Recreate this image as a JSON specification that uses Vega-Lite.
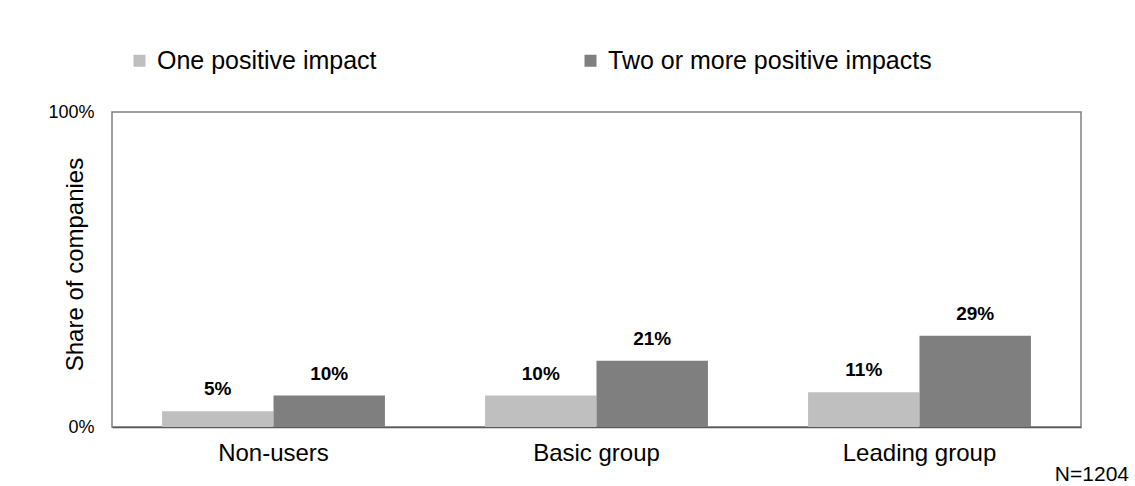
{
  "$schema": "https://vega.github.io/schema/vega-lite/v6.json",
  "width": 969,
  "height": 315,
  "autosize": "none",
  "padding": {"left": 112, "top": 112, "right": 54, "bottom": 59},
  "background": "white",
  "config": {
    "font": "Liberation Sans",
    "view": {"stroke": "#808080", "strokeWidth": 1.5}
  },
  "title": {
    "text": "N=1204",
    "orient": "bottom",
    "anchor": "end",
    "fontSize": 21,
    "fontWeight": "normal",
    "color": "#000",
    "dx": 48,
    "offset": -1
  },
  "data": {
    "values": [
      {"group": "Non-users", "impact": "One positive impact", "share": 5, "label": "5%"},
      {"group": "Non-users", "impact": "Two or more positive impacts", "share": 10, "label": "10%"},
      {"group": "Basic group", "impact": "One positive impact", "share": 10, "label": "10%"},
      {"group": "Basic group", "impact": "Two or more positive impacts", "share": 21, "label": "21%"},
      {"group": "Leading group", "impact": "One positive impact", "share": 11, "label": "11%"},
      {"group": "Leading group", "impact": "Two or more positive impacts", "share": 29, "label": "29%"}
    ]
  },
  "encoding": {
    "x": {
      "field": "group",
      "type": "nominal",
      "sort": ["Non-users", "Basic group", "Leading group"],
      "scale": {"paddingInner": 0.31, "paddingOuter": 0.155},
      "axis": {
        "title": null,
        "labelAngle": 0,
        "labelFontSize": 24,
        "labelColor": "#000",
        "ticks": false,
        "domainColor": "#595959",
        "domainWidth": 1.5,
        "labelPadding": 14
      }
    },
    "xOffset": {
      "field": "impact",
      "sort": ["One positive impact", "Two or more positive impacts"],
      "scale": {"paddingInner": 0, "paddingOuter": 0}
    },
    "y": {
      "field": "share",
      "type": "quantitative",
      "scale": {"domain": [0, 100], "nice": false},
      "axis": {
        "values": [0, 100],
        "labelExpr": "datum.value + '%'",
        "grid": false,
        "ticks": false,
        "domain": false,
        "labelFontSize": 18,
        "labelColor": "#000",
        "labelPadding": 18,
        "title": "Share of companies",
        "titleFontSize": 24,
        "titleFontWeight": "normal",
        "titleColor": "#000",
        "titleX": -37,
        "titleY": 152,
        "titleBaseline": "middle"
      }
    }
  },
  "layer": [
    {
      "mark": {"type": "bar"},
      "encoding": {
        "color": {
          "field": "impact",
          "type": "nominal",
          "scale": {
            "domain": ["One positive impact", "Two or more positive impacts"],
            "range": ["#bfbfbf", "#7f7f7f"]
          },
          "legend": {
            "orient": "none",
            "legendX": 15,
            "legendY": -64,
            "direction": "horizontal",
            "title": null,
            "symbolType": "square",
            "symbolSize": 144,
            "symbolStrokeWidth": 0,
            "labelFontSize": 25,
            "labelColor": "#000",
            "labelOffset": 5,
            "labelLimit": 0,
            "columnPadding": 201,
            "padding": 0
          }
        }
      }
    },
    {
      "mark": {"type": "text", "baseline": "bottom", "dy": -12, "fontWeight": "bold", "fontSize": 19, "color": "#000"},
      "encoding": {"text": {"field": "label"}}
    }
  ]
}
